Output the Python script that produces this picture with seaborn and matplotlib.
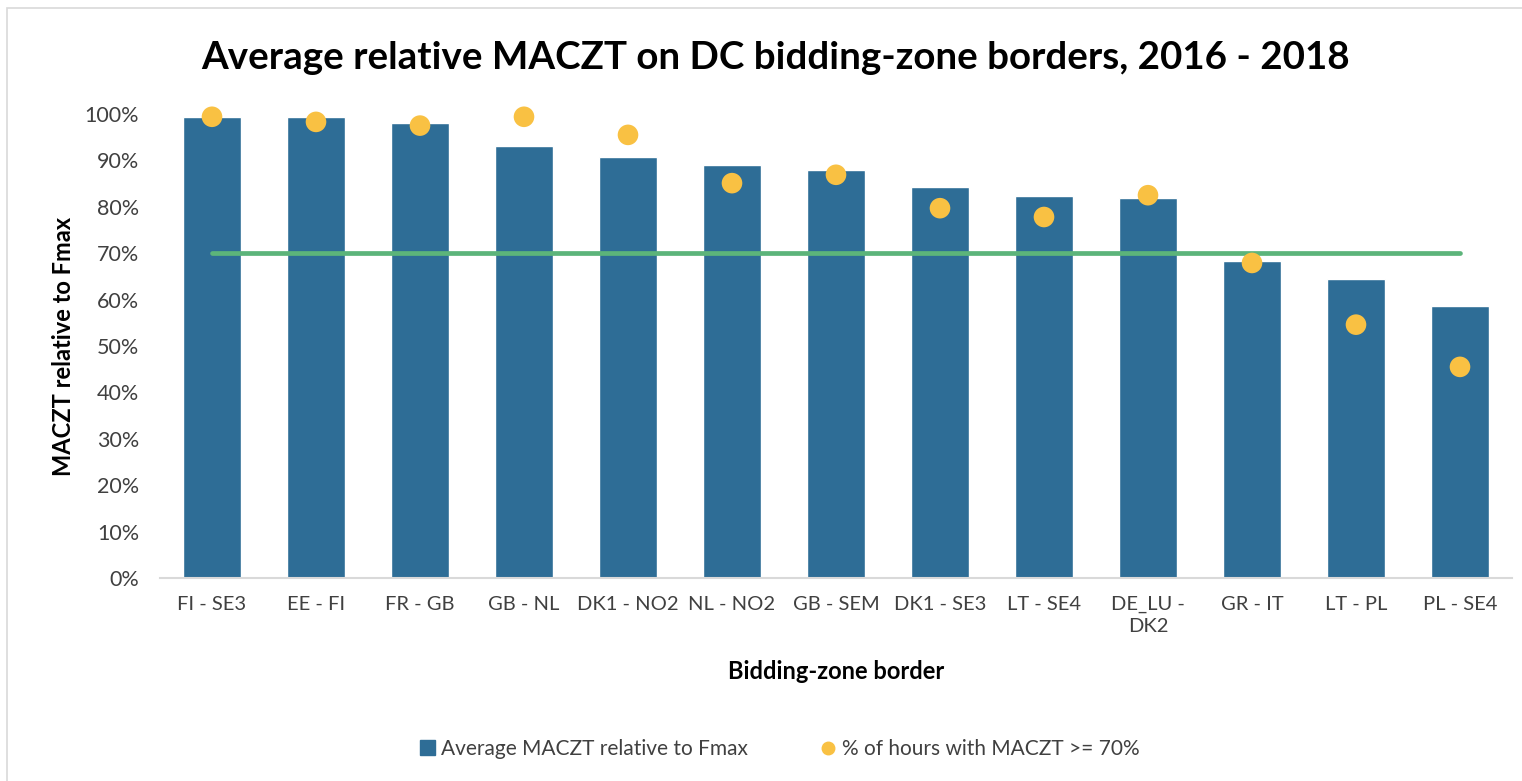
import numpy as np
import pandas as pd
import seaborn as sns
import matplotlib.pyplot as plt
from matplotlib.patches import Rectangle
from matplotlib.lines import Line2D
from matplotlib.ticker import PercentFormatter

borders = ['FI - SE3', 'EE - FI', 'FR - GB', 'GB - NL', 'DK1 - NO2', 'NL - NO2', 'GB - SEM',
           'DK1 - SE3', 'LT - SE4', 'DE_LU -\nDK2', 'GR - IT', 'LT - PL', 'PL - SE4']
avg_maczt = [99.3, 99.3, 98.1, 93.2, 90.7, 89.0, 87.9, 84.3, 82.4, 81.8, 68.3, 64.4, 58.6]
hours_above = [99.4, 98.3, 97.5, 99.4, 95.5, 85.1, 86.9, 79.7, 77.8, 82.5, 67.9, 54.6, 45.5]
target = 70

bar_color = '#2E6D96'
dot_color = '#F9C143'
line_color = '#5CB47A'
text_color = '#404040'

df = pd.DataFrame({'border': borders, 'avg': avg_maczt, 'hours': hours_above})
df['pos'] = np.arange(len(df))

sns.set_theme(style="white")
plt.rcParams['font.family'] = ['Lato', 'DejaVu Sans']

fig = plt.figure(figsize=(15.22, 7.81), dpi=100)
W, H = 1522, 781
ax = fig.add_axes([160 / W, 1 - 578 / H, (1512 - 160) / W, (578 - 114) / H])

# thin frame around the chart area
fig.patches.append(Rectangle((7 / W, -0.05), 1.1, 1 - 8 / H + 0.05, transform=fig.transFigure,
                             fill=False, edgecolor='#D9D9D9', linewidth=1.2))

sns.barplot(data=df, x='border', y='avg', color=bar_color, width=0.56, saturation=1, ax=ax)
ax.plot([df.pos.iloc[0], df.pos.iloc[-1]], [target, target], color=line_color,
        linewidth=3.4, solid_capstyle='round', zorder=3)
sns.scatterplot(data=df, x='pos', y='hours', color=dot_color, s=220, edgecolor='none',
                ax=ax, zorder=4, clip_on=False)

ax.set_xlim(-0.5, len(df) - 0.5)
ax.set_ylim(0, 100)
ax.set_yticks(np.arange(0, 101, 10))
ax.yaxis.set_major_formatter(PercentFormatter(decimals=0))
ax.set_xticks(df.pos)
ax.set_xticklabels(borders, linespacing=1.35)
ax.tick_params(axis='both', length=0, labelcolor=text_color)
ax.tick_params(axis='x', pad=13, labelsize=14.5)
ax.tick_params(axis='y', pad=15, labelsize=15.5)
for s in ['top', 'right', 'left']:
    ax.spines[s].set_visible(False)
ax.spines['bottom'].set_color('#D9D9D9')
ax.spines['bottom'].set_linewidth(1.5)

ax.set_xlabel('Bidding-zone border', fontsize=17, fontweight='bold', color='black', labelpad=18)
ax.set_ylabel('MACZT relative to Fmax', fontsize=17, fontweight='bold', color='black', labelpad=7)

fig.text(776 / W, 1 - 58 / H, 'Average relative MACZT on DC bidding-zone borders, 2016 - 2018',
         ha='center', va='center', fontsize=27.7, fontweight='bold', color='black')

handles = [Rectangle((0, 0), 1, 1, color=bar_color),
           Line2D([], [], marker='o', linestyle='none', color=dot_color, markersize=9)]
fig.legend(handles, ['Average MACZT relative to Fmax', '% of hours with MACZT >= 70%'],
           loc='center', bbox_to_anchor=(780 / W, 1 - 749 / H), ncol=2, frameon=False,
           fontsize=15, handlelength=0.7, handleheight=0.7, handletextpad=0.3,
           columnspacing=3.5, labelcolor=text_color)

fig.savefig('out.png', dpi=100)
